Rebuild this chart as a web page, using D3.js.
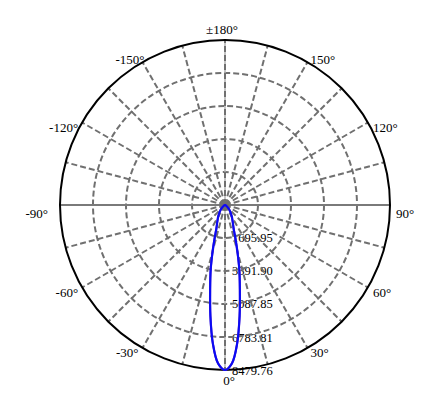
<!DOCTYPE html>
<html>
<head>
	<meta charset="UTF-8">
	<script src="https://d3js.org/d3.v7.min.js"></script>
	<style>
		body { margin: 0; background: #fff; }
		text { font-family: "Liberation Serif", "Times New Roman", Times, serif; fill: #000; }
	</style>
</head>
<body>
	<svg width="445" height="405"></svg>
	<script>
		var width = 445;
		var height = 405;

		// gamma angles (deg) and luminous intensity (cd) for the two planes
		var gammas = [0, 2.5, 5, 7.5, 10, 12.5, 15, 17.5, 20, 25, 30, 35, 40, 45, 50, 60, 70, 80, 90];
		var c0c180 = [8479.76, 8150, 7150, 5750, 4400, 3400, 2450, 1750, 1300, 930, 700, 520, 380, 260, 170, 70, 20, 5, 0];
		var c90c270 = [8479.76, 8150, 7150, 5750, 4400, 3400, 2450, 1750, 1300, 930, 700, 520, 380, 260, 170, 70, 20, 5, 0];

		// radial tick values and angle labels
		var ringValues = [1695.95, 3391.90, 5087.85, 6783.81, 8479.76];
		var angleValues = [0, 30, 60, 90, 120, 150, 180, -150, -120, -90, -60, -30];
		var angleLabels = ["0°", "30°", "60°", "90°", "120°", "150°", "±180°", "-150°", "-120°", "-90°", "-60°", "-30°"];
		var spokeAngles = d3.range(0, 360, 15);

		var cx = 225, cy = 205, R = 165;
		var rScale = d3.scaleLinear().domain([0, 8479.76]).range([0, R]);
		var toRad = function (a) { return a * Math.PI / 180; };

		var svg = d3.select("svg");
		var g = svg.append("g").attr("transform", "translate(" + cx + "," + cy + ")");

		// radial value labels (under the grid, like the original)
		g.selectAll(".rlabel")
			.data(ringValues)
			.enter()
			.append("text")
			.attr("class", "rlabel")
			.attr("x", 7)
			.attr("y", d => rScale(d) + 4.5)
			.attr("font-size", "12.5px")
			.text(d => d.toFixed(2));

		// rings
		g.selectAll(".ring")
			.data(ringValues.slice(0, 4))
			.enter()
			.append("circle")
			.attr("class", "ring")
			.attr("r", d => rScale(d))
			.attr("fill", "none")
			.attr("stroke", "#707070")
			.attr("stroke-width", 2)
			.attr("stroke-dasharray", "6,3");

		// horizontal axis solid, vertical with light solid under dashes
		g.append("line")
			.attr("x1", -R).attr("x2", R).attr("y1", 0).attr("y2", 0)
			.attr("stroke", "#7a7a7a").attr("stroke-width", 2);
		g.append("line")
			.attr("x1", 0).attr("x2", 0).attr("y1", -R).attr("y2", R)
			.attr("stroke", "#b0b0b0").attr("stroke-width", 1.5);

		// spokes
		g.selectAll(".spoke")
			.data(spokeAngles.filter(a => a % 180 != 90))
			.enter()
			.append("line")
			.attr("class", "spoke")
			.attr("x1", 0).attr("y1", 0)
			.attr("x2", d => R * Math.sin(toRad(d)))
			.attr("y2", d => R * Math.cos(toRad(d)))
			.attr("stroke", "#707070")
			.attr("stroke-width", 2)
			.attr("stroke-dasharray", "6,3");

		// outer circle
		g.append("circle")
			.attr("r", R)
			.attr("fill", "none")
			.attr("stroke", "#000")
			.attr("stroke-width", 2);

		// angle labels
		g.selectAll(".alabel")
			.data(angleValues)
			.enter()
			.append("text")
			.attr("class", "alabel")
			.attr("font-size", "13px")
			.attr("text-anchor", function (d) {
				var s = Math.sin(toRad(d));
				if (Math.abs(s) < 0.01) return "middle";
				return s > 0 ? "start" : "end";
			})
			.attr("x", function (d) {
				var s = Math.sin(toRad(d)), c = Math.cos(toRad(d));
				var x = R * s;
				if (Math.abs(s) < 0.01) return x + (c > 0 ? 4 : -3);
				if (s > 0) return x + 2 + 4 * s * s;
				if (c < -0.6) return x + 2;
				return x + (Math.abs(s) > 0.99 ? -12 : -4);
			})
			.attr("y", function (d) {
				var s = Math.sin(toRad(d)), c = Math.cos(toRad(d));
				var y = R * c;
				if (c < -0.9) return y - 6;
				if (c < -0.6) return y + 2;
				if (c > 0.99) return y + 15;
				if (Math.abs(s) > 0.99) return y + 13;
				return y + 9;
			})
			.text((d, i) => angleLabels[i]);

		// intensity curves, full plane from -90 to 90
		function planePoints(vals) {
			var pts = [];
			for (var i = gammas.length - 1; i > 0; i--) pts.push([-gammas[i], vals[i]]);
			for (var j = 0; j < gammas.length; j++) pts.push([gammas[j], vals[j]]);
			return pts;
		}

		var curve = d3.lineRadial()
			.angle(d => Math.PI - toRad(d[0]))
			.radius(d => rScale(d[1]))
			.curve(d3.curveCatmullRom.alpha(0.5));

		g.append("path")
			.datum(planePoints(c0c180))
			.attr("d", curve)
			.attr("fill", "none")
			.attr("stroke", "#5a28c8")
			.attr("stroke-width", 2.2);

		g.append("path")
			.datum(planePoints(c90c270))
			.attr("d", curve)
			.attr("fill", "none")
			.attr("stroke", "#0a0af5")
			.attr("stroke-width", 2);
	</script>
</body>
</html>
